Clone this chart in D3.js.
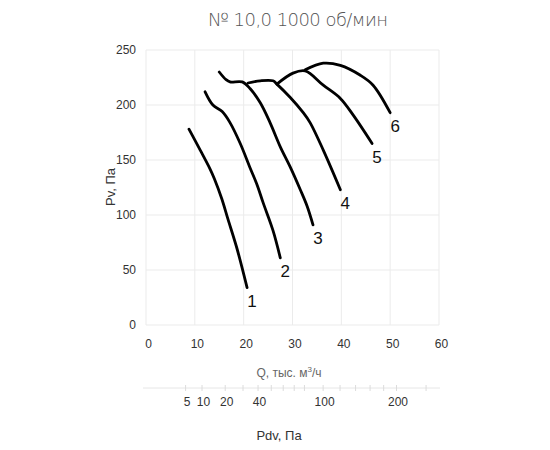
<!DOCTYPE html>
<html><head><meta charset="utf-8">
<script src="https://cdn.jsdelivr.net/npm/d3@7"></script>
<style>
html,body{margin:0;padding:0;background:#fff;}
svg text{font-family:"Liberation Sans",Arial,sans-serif;}
</style></head>
<body><svg id="c" width="550" height="450"></svg>
<script>
const title = "№ 10,0  1000 об/мин";
const xTicks = [0,10,20,30,40,50,60];
const yTicks = [0,50,100,150,200,250];
const pdvLabels = [5,10,20,40,100,200];
const pdvMinor = [30,50,60,70,80,120,140,160,180,250];
const curveNames = ["1","2","3","4","5","6"];
const curve1 = [[8.8,178],[11.1,159],[13.1,142],[14.0,133],[15.5,115],[16.8,96],[18.6,70],[20.7,34]];
const curve2 = [[12.1,212],[13.7,200],[15.6,194],[17.2,184],[19.3,165],[21.3,143],[22.7,128],[24.0,111],[26.0,86],[27.5,61]];
const curve3 = [[15.0,230],[16.4,223],[17.2,221],[19.7,221],[21.3,215],[23.4,202],[25.4,184],[27.5,162],[29.5,144],[31.6,123],[33.0,108],[34.2,91]];
const curve4 = [[20.9,220],[23.4,222],[26.0,222],[26.8,219],[29.5,207],[32.2,193],[33.6,184],[36.3,159],[39.8,123]];
const curve5 = [[26.8,219],[30.1,229],[32.6,231],[36.3,218],[39.8,206],[42.4,191],[46.3,165]];
const curve6 = [[32.6,232],[36.3,238],[39.8,236],[43.9,227],[46.5,218],[50.0,193]];
const curves = [curve1,curve2,curve3,curve4,curve5,curve6];
const pdvK = 0.076; // Pdv = k*Q^2

const svg = d3.select("#c");
const x = d3.scaleLinear().domain([0,60]).range([146,439]);
const y = d3.scaleLinear().domain([0,250]).range([325,50]);
const xp = d3.scaleSqrt().domain([0, pdvK*3600]).range([146,439]);

// grid
const g = svg.append("g");
g.selectAll(".hg").data(yTicks).enter().append("line")
  .attr("x1",x(0)).attr("x2",x(60)).attr("y1",d=>y(d)).attr("y2",d=>y(d))
  .attr("stroke","#ebebeb").attr("stroke-width",1);
g.selectAll(".vg").data(xTicks).enter().append("line")
  .attr("y1",y(0)).attr("y2",y(250)).attr("x1",d=>x(d)).attr("x2",d=>x(d))
  .attr("stroke","#ebebeb").attr("stroke-width",1);

// y axis labels
const yAxis = d3.axisLeft(y).tickValues(yTicks).tickSize(0).tickPadding(0);
svg.append("g").attr("transform","translate(136,0)").call(yAxis)
  .call(s=>s.select(".domain").remove())
  .call(s=>s.selectAll("text").attr("font-size",12).attr("fill","#333").attr("font-family","Liberation Sans, Arial, sans-serif"));

// x axis labels
const xAxis = d3.axisBottom(x).tickValues(xTicks).tickSize(0).tickPadding(0);
svg.append("g").attr("transform","translate(2,339)").call(xAxis)
  .call(s=>s.select(".domain").remove())
  .call(s=>s.selectAll("text").attr("font-size",12).attr("fill","#333").attr("font-family","Liberation Sans, Arial, sans-serif"));

// Pdv axis
const pg = svg.append("g").attr("transform","translate(0,388)");
pg.append("line").attr("x1",143).attr("x2",440).attr("stroke","#e6e6e6");
pg.selectAll(".mt").data(pdvLabels.concat(pdvMinor)).enter().append("line")
  .attr("x1",d=>xp(d)).attr("x2",d=>xp(d)).attr("y1",-3).attr("y2",3).attr("stroke","#dcdcdc");
const pAxis = d3.axisBottom(xp).tickValues(pdvLabels).tickSize(0).tickPadding(0);
svg.append("g").attr("transform","translate(1,397)").call(pAxis)
  .call(s=>s.select(".domain").remove())
  .call(s=>s.selectAll("text").attr("font-size",12).attr("fill","#333").attr("font-family","Liberation Sans, Arial, sans-serif"));

// titles
svg.append("text").attr("x",298).attr("y",26).attr("text-anchor","middle")
  .attr("font-size",18).attr("fill","#555").style("font-family","'DejaVu Sans', sans-serif").style("font-weight","200")
  .attr("textLength",180).text(title);
svg.append("text").attr("transform","translate(115,187) rotate(-90)").attr("text-anchor","middle")
  .attr("font-size",13).attr("fill","#333").text("Pv, Па");
const ql = svg.append("text").attr("x",289).attr("y",377).attr("text-anchor","middle")
  .attr("font-size",12).attr("fill","#666");
ql.append("tspan").text("Q, тыс. м");
ql.append("tspan").attr("font-size",8).attr("dy",-5).text("3");
ql.append("tspan").attr("dy",5).text("/ч");
svg.append("text").attr("x",279).attr("y",440).attr("text-anchor","middle")
  .attr("font-size",13).attr("fill","#333").text("Pdv, Па");

// curves
const line = d3.line().x(d=>x(d[0])).y(d=>y(d[1])).curve(d3.curveCatmullRom.alpha(0.5));
svg.selectAll(".crv").data(curves).enter().append("path")
  .attr("d",line).attr("fill","none").attr("stroke","#000").attr("stroke-width",2.8)
  .attr("stroke-linecap","round").attr("stroke-linejoin","round");
svg.selectAll(".cl").data(curves).enter().append("text")
  .attr("x",d=>x(d[d.length-1][0])+5).attr("y",d=>y(d[d.length-1][1])+19)
  .attr("text-anchor","middle").attr("font-size",17).attr("fill","#111")
  .text((d,i)=>curveNames[i]);
</script></body></html>
